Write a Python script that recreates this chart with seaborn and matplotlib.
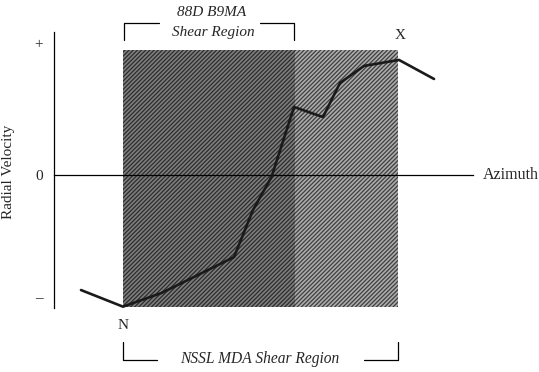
import numpy as np
import matplotlib
matplotlib.use('Agg')
import matplotlib.pyplot as plt
import seaborn as sns

# data: azimuth (arbitrary units) and radial velocity (normalised)
azimuth = [2.7, 6.9, 10.75, 13.8, 18.0, 19.9, 21.75, 24.0, 26.9, 28.6, 31.0, 34.5, 38.0]
velocity = [-0.865, -0.99, -0.887, -0.774, -0.617, -0.263, -0.015, 0.511, 0.436, 0.692, 0.82, 0.865, 0.722]

b9ma_region = [6.9, 24.1]   # 88D B9MA shear region
nssl_region = [6.9, 34.4]   # NSSL MDA shear region
shade_bottom, shade_top = -0.99, 0.94

tick_pos = [-0.917, 0, 0.992]
tick_labels = ['\u2013', '0', '+']

sns.set_style('white')
plt.rcParams['font.family'] = ['Liberation Serif', 'DejaVu Serif']
plt.rcParams['hatch.linewidth'] = 0.9

fig = plt.figure(figsize=(5.39, 3.72), dpi=100)
ax = fig.add_axes([54 / 539, 64 / 372, 419 / 539, 276 / 372])
ax.set_xlim(0, 41.9)
ax.set_ylim(-1.0, 1.075)

# shaded regions
ax.fill_between(b9ma_region, shade_bottom, shade_top, facecolor='#7e7e7e',
                edgecolor='#2c2c2c', hatch='////////', linewidth=0, zorder=1)
ax.fill_between([b9ma_region[1], nssl_region[1]], shade_bottom, shade_top,
                facecolor='#acacac', edgecolor='#3e3e3e', hatch='////////',
                linewidth=0, zorder=1)

sns.lineplot(x=azimuth, y=velocity, color='#1a1a1a', linewidth=1.9, ax=ax, zorder=3)

# axes styling
for s in ['top', 'right']:
    ax.spines[s].set_visible(False)
ax.spines['bottom'].set_position(('data', 0))
ax.spines['bottom'].set_zorder(2)
for s in ['left', 'bottom']:
    ax.spines[s].set_linewidth(0.9)
    ax.spines[s].set_color('black')
ax.set_xticks([])
ax.set_yticks(tick_pos)
ax.set_yticklabels(tick_labels, fontsize=11)
ax.tick_params(axis='y', length=0, pad=8)
ax.set_ylabel('Radial Velocity', fontsize=11)
ax.yaxis.set_label_coords(-0.092, 0.493)
ax.text(42.9, 0, 'Azimuth', fontsize=11.5, va='center', ha='left', clip_on=False)

# N / X labels
ax.text(nssl_region[0], -1.128, 'N', fontsize=11, ha='center', va='center', clip_on=False)
ax.text(nssl_region[1] + 0.2, 1.045, 'X', fontsize=11, ha='center', va='center', clip_on=False)

# upper bracket
ub_top, ub_bot = 1.143, 1.015
ax.plot([b9ma_region[0] + 0.1, b9ma_region[0] + 0.1, 10.5], [ub_bot, ub_top, ub_top],
        color='black', lw=0.9, clip_on=False)
ax.plot([20.6, b9ma_region[1] - 0.1, b9ma_region[1] - 0.1], [ub_top, ub_top, ub_bot],
        color='black', lw=0.9, clip_on=False)
ax.text(15.8, 1.218, '88D B9MA', fontsize=11, style='italic', ha='center', va='center',
        clip_on=False)
ax.text(15.9, 1.075, 'Shear Region', fontsize=11, style='italic', ha='center',
        va='center', clip_on=False)

# lower bracket
lb_top, lb_bot = -1.256, -1.391
ax.plot([nssl_region[0], nssl_region[0], 10.3], [lb_top, lb_bot, lb_bot],
        color='black', lw=0.9, clip_on=False)
ax.plot([31.0, nssl_region[1], nssl_region[1]], [lb_bot, lb_bot, lb_top],
        color='black', lw=0.9, clip_on=False)
ax.text(20.6, -1.383, 'NSSL MDA Shear Region', fontsize=11.2, style='italic',
        ha='center', va='center', clip_on=False)

fig.savefig('out.png', dpi=100)
